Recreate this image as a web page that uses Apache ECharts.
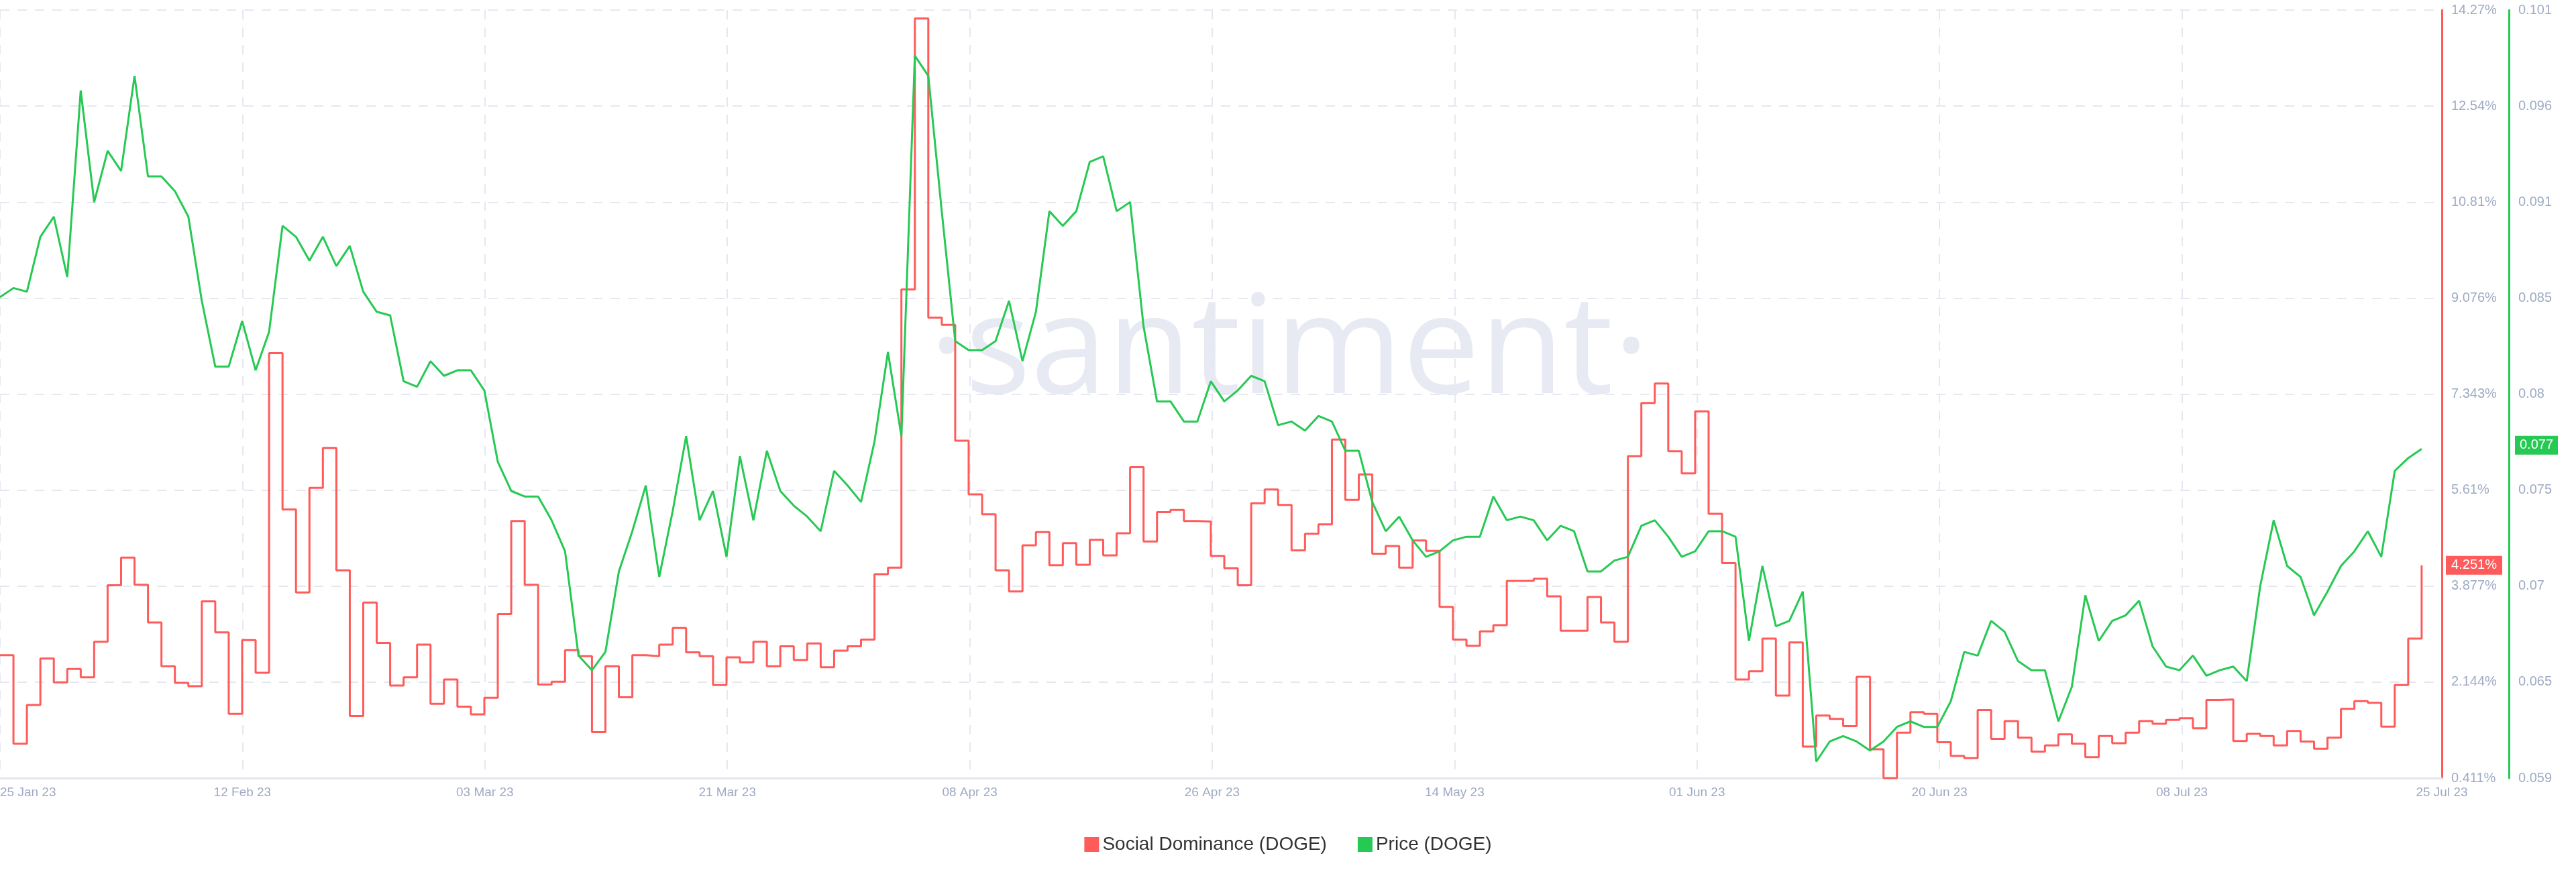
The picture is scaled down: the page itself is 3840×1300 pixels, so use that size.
<!DOCTYPE html>
<html>
<head>
<meta charset="utf-8">
<script src="https://cdn.jsdelivr.net/npm/echarts@6/dist/echarts.min.js"></script>
<style>html,body{margin:0;padding:0;background:#fff}#chart{width:3840px;height:1300px}</style>
</head>
<body>
<div id="chart"></div>
<script>
// one value per day, first day is 25 Jan 23
var socialDominance = [
  2.63, 1.03, 1.73, 2.57, 2.14, 2.38, 2.23, 2.87, 3.89, 4.39,
  3.90, 3.22, 2.43, 2.13, 2.07, 3.60, 3.04, 1.57, 2.90, 2.31,
  8.08, 5.26, 3.76, 5.65, 6.37, 4.16, 1.53, 3.58, 2.85, 2.08,
  2.23, 2.82, 1.75, 2.19, 1.70, 1.56, 1.86, 3.37, 5.05, 3.90,
  2.10, 2.15, 2.72, 2.61, 1.24, 2.43, 1.87, 2.63, 2.61, 2.82,
  3.12, 2.68, 2.61, 2.09, 2.59, 2.50, 2.87, 2.43, 2.79, 2.54,
  2.84, 2.41, 2.71, 2.79, 2.91, 4.09, 4.21, 9.23, 14.12, 8.72,
  8.59, 6.50, 5.53, 5.17, 4.16, 3.78, 4.61, 4.85, 4.25, 4.65,
  4.26, 4.71, 4.43, 4.83, 6.02, 4.68, 5.21, 5.25, 5.05, 5.04,
  4.42, 4.20, 3.89, 5.37, 5.62, 5.34, 4.52, 4.82, 4.99, 6.52,
  5.43, 5.89, 4.46, 4.60, 4.21, 4.70, 4.51, 3.50, 2.91, 2.80,
  3.06, 3.17, 3.97, 3.97, 4.01, 3.69, 3.07, 3.07, 3.68, 3.22,
  2.87, 6.22, 7.18, 7.53, 6.31, 5.91, 7.03, 5.18, 4.29, 2.19,
  2.34, 2.93, 1.90, 2.86, 0.98, 1.54, 1.48, 1.35, 2.24, 0.93,
  0.41, 1.23, 1.60, 1.57, 1.06, 0.81, 0.77, 1.64, 1.12, 1.44,
  1.14, 0.89, 1.00, 1.20, 1.03, 0.79, 1.17, 1.04, 1.23, 1.44,
  1.39, 1.46, 1.49, 1.31, 1.82, 1.83, 1.08, 1.21, 1.17, 1.00,
  1.26, 1.07, 0.94, 1.14, 1.66, 1.80, 1.77, 1.34, 2.09, 2.93,
  4.251
];

var price = [
  0.0853, 0.0858, 0.0856, 0.0886, 0.0897, 0.0864, 0.0966, 0.0905, 0.0933, 0.0922,
  0.0974, 0.0919, 0.0919, 0.0911, 0.0897, 0.0851, 0.0815, 0.0815, 0.0840, 0.0813,
  0.0834, 0.0892, 0.0886, 0.0873, 0.0886, 0.0870, 0.0881, 0.0856, 0.0845, 0.0843,
  0.0807, 0.0804, 0.0818, 0.0810, 0.0813, 0.0813, 0.0802, 0.0763, 0.0747, 0.0744,
  0.0744, 0.0731, 0.0714, 0.0657, 0.0649, 0.0659, 0.0703, 0.0725, 0.0750, 0.0700,
  0.0736, 0.0777, 0.0731, 0.0747, 0.0711, 0.0766, 0.0731, 0.0769, 0.0747, 0.0739,
  0.0733, 0.0725, 0.0758, 0.0750, 0.0741, 0.0774, 0.0823, 0.0777, 0.0985, 0.0974,
  0.0900, 0.0829, 0.0824, 0.0824, 0.0829, 0.0851, 0.0818, 0.0845, 0.0900, 0.0892,
  0.0900, 0.0927, 0.0930, 0.0900, 0.0905, 0.0837, 0.0796, 0.0796, 0.0785, 0.0785,
  0.0807, 0.0796, 0.0802, 0.0810, 0.0807, 0.0783, 0.0785, 0.0780, 0.0788, 0.0785,
  0.0769, 0.0769, 0.0741, 0.0725, 0.0733, 0.0720, 0.0711, 0.0714, 0.0720, 0.0722,
  0.0722, 0.0744, 0.0731, 0.0733, 0.0731, 0.0720, 0.0728, 0.0725, 0.0703, 0.0703,
  0.0709, 0.0711, 0.0728, 0.0731, 0.0722, 0.0711, 0.0714, 0.0725, 0.0725, 0.0722,
  0.0665, 0.0706, 0.0673, 0.0676, 0.0692, 0.0599, 0.0610, 0.0613, 0.0610, 0.0605,
  0.0610, 0.0618, 0.0621, 0.0618, 0.0618, 0.0632, 0.0659, 0.0657, 0.0676, 0.0670,
  0.0654, 0.0649, 0.0649, 0.0621, 0.0640, 0.0690, 0.0665, 0.0676, 0.0679, 0.0687,
  0.0662, 0.0651, 0.0649, 0.0657, 0.0646, 0.0649, 0.0651, 0.0643, 0.0695, 0.0731,
  0.0706, 0.0700, 0.0679, 0.0692, 0.0706, 0.0714, 0.0725, 0.0711, 0.0758, 0.0765,
  0.0770
];

var xTickLabels = ['25 Jan 23', '12 Feb 23', '03 Mar 23', '21 Mar 23', '08 Apr 23', '26 Apr 23',
  '14 May 23', '01 Jun 23', '20 Jun 23', '08 Jul 23', '25 Jul 23'];
var sdTickLabels = ['0.411%', '2.144%', '3.877%', '5.61%', '7.343%', '9.076%', '10.81%', '12.54%', '14.27%'];
var priceTickLabels = ['0.059', '0.065', '0.07', '0.075', '0.08', '0.085', '0.091', '0.096', '0.101'];

var sdMin = 0.411, sdMax = 14.27, priceMin = 0.059, priceMax = 0.101;
var dayMax = 181.5;
var xTicks = xTickLabels.map(function (l, i) { return i < xTickLabels.length - 1 ? i * 18.02 : dayMax; });

function toPairs(arr) {
  return arr.map(function (v, i) { return [i, v]; });
}

var red = '#ff5b5b', green = '#26c953', tickColor = '#9faac4';
var gridLine = { show: true, lineStyle: { color: '#e6e8f1', type: [14, 12], width: 2 } };

function badge(value, text, color, width, offsetX) {
  return {
    silent: true, animation: false,
    symbol: 'rect', symbolSize: [width, 28], symbolOffset: [offsetX, 0],
    itemStyle: { color: color },
    label: { show: true, position: 'inside', formatter: text, color: '#fff', fontSize: 20 },
    data: [{ coord: [dayMax, value] }]
  };
}

var chart = echarts.init(document.getElementById('chart'));
chart.setOption({
  animation: false,
  textStyle: { fontFamily: 'Liberation Sans' },
  graphic: [{
    type: 'text', left: 1385, top: 425, z: 0, silent: true,
    style: { text: '·santiment·', font: '205px "Open Sans"', fill: '#e8eaf3' }
  }],
  legend: {
    bottom: 22, left: 'center', itemWidth: 22, itemHeight: 22, itemGap: 46, icon: 'rect',
    textStyle: { fontSize: 28, color: '#333' },
    data: ['Social Dominance (DOGE)', 'Price (DOGE)']
  },
  grid: { left: 0, right: 200, top: 15, bottom: 140, outerBoundsMode: 'none' },
  xAxis: {
    type: 'value', min: 0, max: dayMax,
    axisLine: { onZero: false, lineStyle: { color: '#e3e7f0', width: 3 } },
    axisTick: { show: false, customValues: xTicks },
    splitLine: gridLine,
    axisLabel: {
      customValues: xTicks, fontSize: 19, color: tickColor, margin: 12, alignMinLabel: 'left',
      formatter: function (v) {
        var i = xTicks.indexOf(v);
        return i >= 0 ? xTickLabels[i] : '';
      }
    }
  },
  yAxis: [{
    type: 'value', position: 'right', min: sdMin, max: sdMax, interval: (sdMax - sdMin) / 8,
    axisLine: { show: true, onZero: false, lineStyle: { color: red, width: 3 } },
    axisTick: { show: false },
    splitLine: gridLine,
    axisLabel: {
      fontSize: 20, color: tickColor, margin: 14,
      formatter: function (v) { return sdTickLabels[Math.round((v - sdMin) / ((sdMax - sdMin) / 8))]; }
    }
  }, {
    type: 'value', position: 'right', offset: 100, min: priceMin, max: priceMax,
    interval: (priceMax - priceMin) / 8,
    axisLine: { show: true, onZero: false, lineStyle: { color: green, width: 3 } },
    axisTick: { show: false },
    splitLine: { show: false },
    axisLabel: {
      fontSize: 20, color: tickColor, margin: 14,
      formatter: function (v) { return priceTickLabels[Math.round((v - priceMin) / ((priceMax - priceMin) / 8))]; }
    }
  }],
  series: [{
    name: 'Social Dominance (DOGE)', type: 'line', yAxisIndex: 0, step: 'end',
    showSymbol: false, z: 3, clip: false,
    lineStyle: { color: red, width: 3 }, itemStyle: { color: red },
    data: toPairs(socialDominance),
    markPoint: badge(socialDominance[socialDominance.length - 1], '4.251%', red, 84, 48)
  }, {
    name: 'Price (DOGE)', type: 'line', yAxisIndex: 1,
    showSymbol: false, z: 4, clip: false,
    lineStyle: { color: green, width: 3 }, itemStyle: { color: green },
    data: toPairs(price),
    markPoint: badge(0.0772, '0.077', green, 64, 141)
  }]
});
</script>
</body>
</html>
